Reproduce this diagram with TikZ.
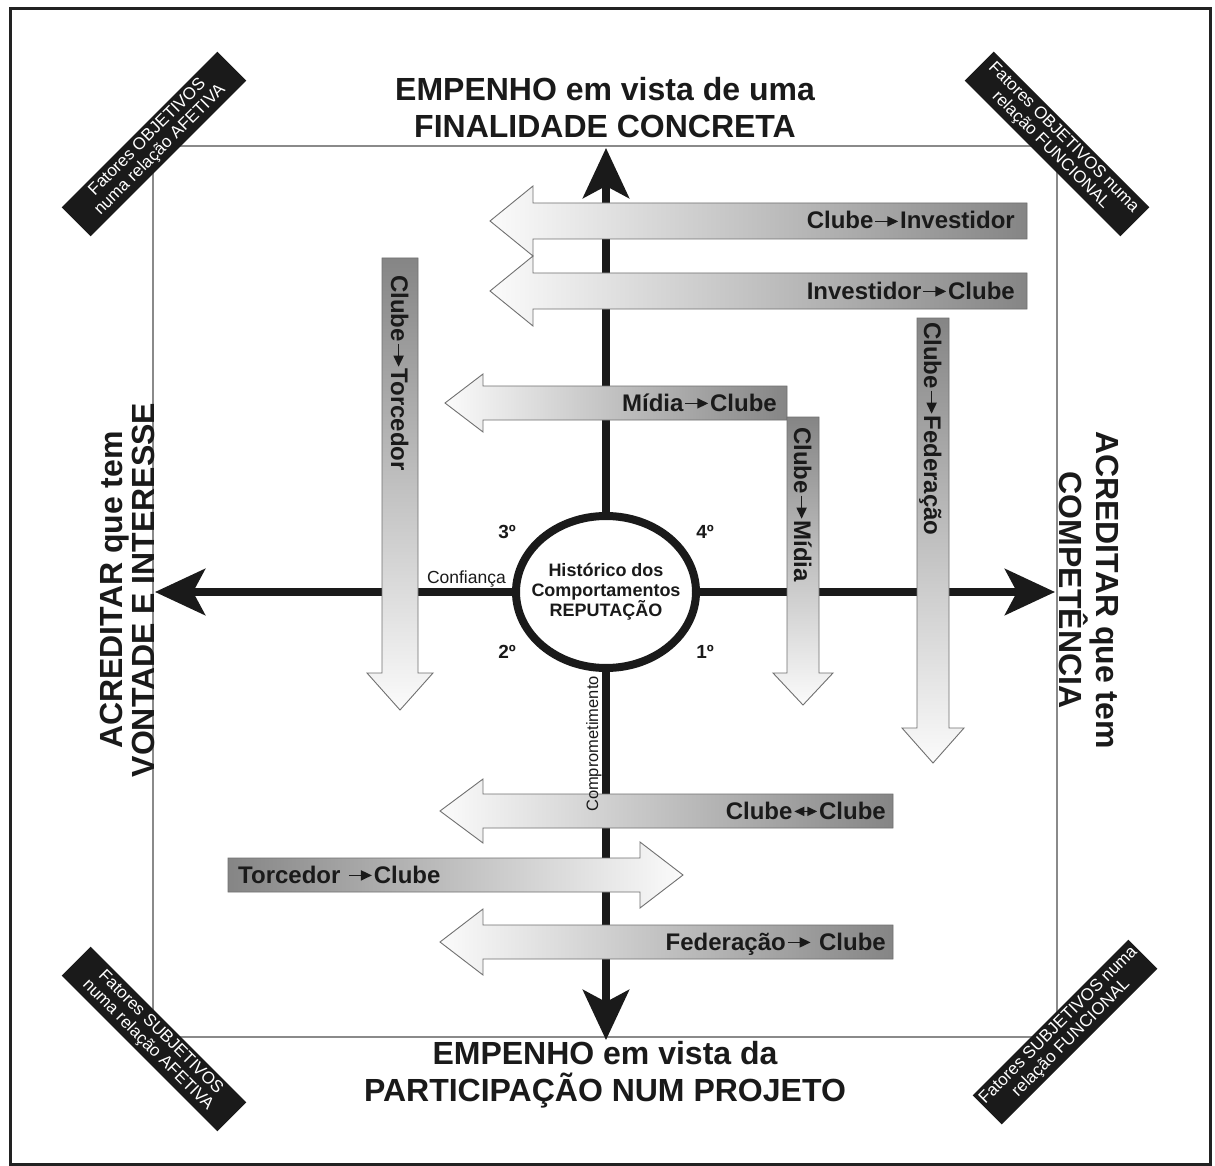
\documentclass[tikz,border=0pt]{standalone}
\usepackage{fontspec}
\setmainfont{Liberation Sans}
\usetikzlibrary{arrows.meta,shapes.geometric}

\definecolor{ink}{HTML}{1A1A1A}
\definecolor{framec}{HTML}{222222}
\definecolor{innerc}{HTML}{8A8A8A}
\definecolor{bdark}{HTML}{858585}
\definecolor{blight}{HTML}{FBFBFB}
\definecolor{bedge}{HTML}{707070}

% small arrows used inside the labels
\newcommand{\relarrow}{\hspace{1pt}\tikz[baseline=-0.6ex]\draw[line width=1.7pt,-{Triangle[length=11pt,width=10pt]}](0pt,0pt)--(23pt,0pt);\hspace{1pt}}
\newcommand{\relboth}{\hspace{1pt}\tikz[baseline=-0.6ex]\draw[line width=1.7pt,{Triangle[length=10pt,width=9pt]}-{Triangle[length=10pt,width=9pt]}](0pt,0pt)--(23pt,0pt);\hspace{1pt}}

% block arrows: tail, tip, centre line, half body, half head, head length
\newcommand{\arrowleft}[6]{%
  \path[blockarrow, left color=blight, right color=bdark]
    (#1,#3-#4) -- (#2+#6,#3-#4) -- (#2+#6,#3-#5) -- (#2,#3)
    -- (#2+#6,#3+#5) -- (#2+#6,#3+#4) -- (#1,#3+#4) -- cycle;}
\newcommand{\arrowright}[6]{%
  \path[blockarrow, left color=bdark, right color=blight]
    (#1,#3-#4) -- (#2-#6,#3-#4) -- (#2-#6,#3-#5) -- (#2,#3)
    -- (#2-#6,#3+#5) -- (#2-#6,#3+#4) -- (#1,#3+#4) -- cycle;}
\newcommand{\arrowdown}[6]{%
  \path[blockarrow, top color=bdark, bottom color=blight]
    (#3-#4,#1) -- (#3-#4,#2-#6) -- (#3-#5,#2-#6) -- (#3,#2)
    -- (#3+#5,#2-#6) -- (#3+#4,#2-#6) -- (#3+#4,#1) -- cycle;}

\begin{document}
\begin{tikzpicture}[x=1pt,y=-1pt,
  axis/.style={line width=8pt, draw=ink, -{Stealth[length=50pt,width=46pt,inset=12pt]}},
  blockarrow/.style={draw=bedge, line width=0.9pt, line join=miter},
  atext/.style={font=\fontsize{24}{26}\selectfont\bfseries, text=ink, inner sep=0pt},
  title/.style={font=\fontsize{32}{37}\selectfont\bfseries, text=ink, align=center, inner sep=0pt},
  corner/.style={fill=ink, text=white, minimum width=220pt, minimum height=41pt,
    inner sep=0pt, align=center, font=\fontsize{17}{18}\selectfont},
  quad/.style={font=\fontsize{19}{22}\selectfont\bfseries, text=ink, inner sep=0pt},
  small/.style={font=\fontsize{17.5}{19}\selectfont, text=ink, inner sep=0pt},
]

\useasboundingbox (0,0) rectangle (1215,1166);
\fill[white] (0,0) rectangle (1215,1166);

% frames
\draw[line width=3pt, framec] (10,9) rectangle (1210,1164);
\draw[line width=1.4pt, innerc] (153,146) rectangle (1057,1037);

% central reputation ellipse and the four axes
\node[ellipse, draw=ink, line width=8pt, fill=white, minimum width=180pt,
      minimum height=152pt, inner sep=0pt] (rep) at (606,592) {};
\node[align=center, inner sep=0pt, font=\fontsize{18}{20}\selectfont\bfseries, text=ink]
  (reptext) at (rep.center) {Histórico dos\\Comportamentos\\REPUTAÇÃO};
\coordinate (ntip) at (606,148);
\coordinate (stip) at (606,1040);
\coordinate (wtip) at (155,592);
\coordinate (etip) at (1055,592);
\draw[axis] (rep) -- (ntip);
\draw[axis] (rep) -- (stip);
\draw[axis] (rep) -- (wtip);
\draw[axis] (rep) -- (etip);

% relationship block arrows
\arrowleft{1027}{490}{221}{18}{35}{43}
\arrowleft{1027}{490}{291}{18}{35}{43}
\arrowleft{787}{445}{403}{17}{29}{38}
\arrowdown{417}{705}{803}{16}{30}{32}
\arrowdown{318}{763}{933}{16}{31}{35}
\arrowdown{258}{710}{400}{18}{33}{37}
\arrowleft{893}{440}{811}{17}{32}{43}
\arrowright{228}{683}{875}{17}{33}{43}
\arrowleft{893}{440}{942}{17}{33}{43}

\node[atext, anchor=base east] (a1) at (1015,229) {Clube\relarrow Investidor};
\node[atext, anchor=base east] (a2) at (1015,299) {Investidor\relarrow Clube};
\node[atext, anchor=base east] (a3) at (777,411) {Mídia\relarrow Clube};
\node[atext, anchor=base west, rotate=-90] (v1) at (391,275) {Clube\relarrow Torcedor};
\node[atext, anchor=base west, rotate=-90] (v2) at (794,427) {Clube\relarrow Mídia};
\node[atext, anchor=base west, rotate=-90] (v3) at (924,322) {Clube\relarrow Federação};
\node[atext, anchor=base east] (a4) at (886,819) {Clube\relboth Clube};
\node[atext, anchor=base west] (a5) at (238,883) {Torcedor \relarrow Clube};
\node[atext, anchor=base east] (a6) at (886,950) {Federação\relarrow\ Clube};

% quadrant numbers and axis labels
\node[quad] (q3) at (507,532) {3º};
\node[quad] (q4) at (705,532) {4º};
\node[quad] (q2) at (507,652) {2º};
\node[quad] (q1) at (705,652) {1º};
\node[small, anchor=base east] (conf) at (506,583) {Confiança};
\node[small, font=\fontsize{16.5}{18}\selectfont, rotate=90, anchor=base] (comp) at (598,744) {Comprometimento};

% titles
\node[title] (ttop) at (605,108) {EMPENHO em vista de uma\\FINALIDADE CONCRETA};
\node[title] (tbot) at (605,1075) {EMPENHO em vista da\\PARTICIPAÇÃO NUM PROJETO};
\node[title, font=\fontsize{32}{32}\selectfont\bfseries, rotate=90] (tleft) at (127,590)
  {ACREDITAR que tem\\VONTADE E INTERESSE};
\node[title, rotate=-90] (tright) at (1089,590) {ACREDITAR que tem\\COMPETÊNCIA};

% corner labels
\node[corner, rotate=45] (ctl) at (154,144) {Fatores OBJETIVOS\\numa relação AFETIVA};
\node[corner, rotate=-45] (ctr) at (1057,144) {Fatores OBJETIVOS numa\\relação FUNCIONAL};
\node[corner, rotate=-45] (cbl) at (154,1039) {Fatores SUBJETIVOS\\numa relação AFETIVA};
\node[corner, rotate=45] (cbr) at (1065,1032) {Fatores SUBJETIVOS numa\\relação FUNCIONAL};

\end{tikzpicture}
\end{document}
